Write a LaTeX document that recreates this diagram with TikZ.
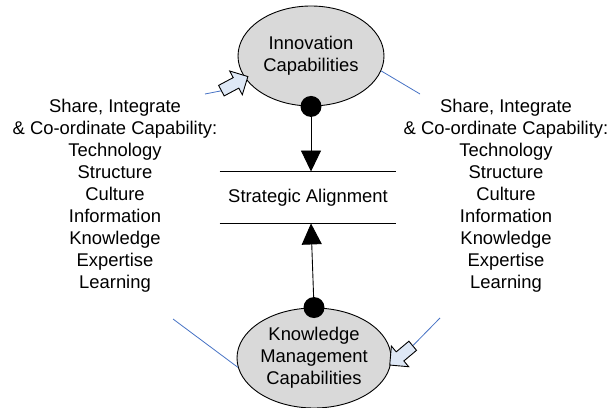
\documentclass[tikz,border=0pt]{standalone}
\usepackage{fontspec}
\setmainfont{Liberation Sans}
\usetikzlibrary{shapes,arrows.meta}
\definecolor{capgray}{RGB}{217,217,217}
\definecolor{pushfill}{RGB}{222,232,246}
\definecolor{loopblue}{RGB}{70,114,196}
\tikzstyle{capability} = [ellipse, draw, fill=capgray, inner sep=0pt,
    text centered, minimum height=100pt, align=center]
\tikzstyle{sharetext} = [align=center]
\tikzstyle{dot} = [circle, fill=black, inner sep=0pt, minimum size=21pt]
\tikzstyle{line} = [draw, -{Triangle[length=21pt,width=20pt]}]
\tikzstyle{loopline} = [draw=loopblue, line width=0.8pt]
\tikzstyle{push} = [single arrow, draw, fill=pushfill, inner sep=5.5pt,
    minimum height=30pt, single arrow head extend=7.5pt]

\begin{document}
\begin{tikzpicture}[node distance=2cm, auto, x=1pt, y=1pt, line width=0.9pt,
    font=\fontsize{18.4}{22}\selectfont]
    \useasboundingbox (0,0) rectangle (610,407);
    % Place nodes
    \node [capability, minimum width=146pt] (innov) at (311,351) {Innovation\\Capabilities};
    \node [below of=innov, node distance=141.5pt, xshift=-3pt, minimum width=176pt, minimum height=51pt] (align) {Strategic Alignment};
    \node [capability, minimum width=154pt, below of=align, node distance=160.5pt, xshift=6pt] (know) {Knowledge\\Management\\Capabilities};
    \node [sharetext, left of=align, node distance=193pt, yshift=1.5pt] (leftshare) {Share, Integrate\\\& Co-ordinate Capability:\\Technology\\Structure\\Culture\\Information\\Knowledge\\Expertise\\Learning};
    \node [sharetext, right of=align, node distance=198pt, yshift=1.5pt] (rightshare) {Share, Integrate\\\& Co-ordinate Capability:\\Technology\\Structure\\Culture\\Information\\Knowledge\\Expertise\\Learning};
    \node [dot] (idot) at (innov.south) {};
    \node [dot] (kdot) at (know.north) {};
    \node [push, rotate=28] (inpush) at (232,322) {};
    \node [push, rotate=220] (outpush) at (403.5,53.5) {};
    \coordinate (tl) at (205,313);
    \coordinate (tr) at (420,313);
    \coordinate (bl) at (173,88);
    \coordinate (br) at (440,89);

    % Draw edges
    \path [line] (idot.center) -- (innov.south |- align.north);
    \path [line] (kdot.center) -- (innov.south |- align.south);
    \draw (align.north west) -- (align.north east);
    \draw (align.south west) -- (align.south east);
    \path [loopline] (tl) -- (inpush.tail);
    \path [loopline] (innov.-12) -- (tr);
    \path [loopline] (bl) -- (know.187);
    \path [loopline] (br) -- (outpush.tail);
\end{tikzpicture}
\end{document}
